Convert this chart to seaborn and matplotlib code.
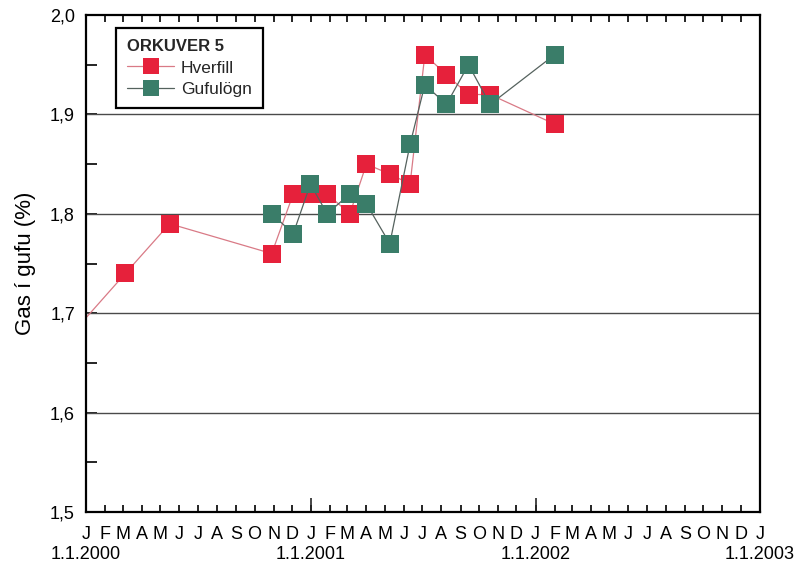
import matplotlib
matplotlib.use("Agg")
import matplotlib.pyplot as plt
import matplotlib.dates as mdates
from matplotlib.lines import Line2D
from matplotlib.ticker import MultipleLocator, FuncFormatter
import matplotlib.transforms as mtransforms
import pandas as pd
import seaborn as sns

# Hverfill measurements (date, gas content %)
hverfill_dates = ["1999-12-10", "2000-03-05", "2000-05-16", "2000-10-29", "2000-12-03",
                  "2000-12-30", "2001-01-27", "2001-03-05", "2001-04-01", "2001-05-09",
                  "2001-06-11", "2001-07-05", "2001-08-09", "2001-09-14", "2001-10-19",
                  "2002-02-02"]
hverfill_values = [1.68, 1.74, 1.79, 1.76, 1.82, 1.82, 1.82, 1.80, 1.85, 1.84,
                   1.83, 1.96, 1.94, 1.92, 1.92, 1.89]

# Gufulögn measurements
gufulogn_dates = ["2000-10-29", "2000-12-03", "2000-12-31", "2001-01-27", "2001-03-05",
                  "2001-04-01", "2001-05-09", "2001-06-11", "2001-07-05", "2001-08-09",
                  "2001-09-14", "2001-10-19", "2002-02-01"]
gufulogn_values = [1.80, 1.78, 1.83, 1.80, 1.82, 1.81, 1.77, 1.87, 1.93, 1.91,
                   1.95, 1.91, 1.96]

month_letters = ["J", "F", "M", "A", "M", "J", "J", "A", "S", "O", "N", "D"]
year_labels = ["1.1.2000", "1.1.2001", "1.1.2002", "1.1.2003"]
legend_title = "ORKUVER 5"
series_names = ["Hverfill", "Gufulögn"]

sns.set_theme(style="white")
plt.rcParams["font.family"] = ["Liberation Sans", "DejaVu Sans"]

df_h = pd.DataFrame({"date": pd.to_datetime(hverfill_dates), "value": hverfill_values})
df_g = pd.DataFrame({"date": pd.to_datetime(gufulogn_dates), "value": gufulogn_values})

fig = plt.figure(figsize=(8.03, 5.72), dpi=100)
ax = fig.add_axes([86 / 803, 1 - 512 / 572, (760 - 86) / 803, (512 - 15) / 572])

red_marker, red_line = "#e6213b", "#d97a86"
green_marker, green_line = "#3a7d69", "#55625e"

# horizontal reference lines
for yv in [1.6, 1.7, 1.8, 1.9]:
    ax.axhline(yv, color="#4a4a4a", lw=1.0, zorder=1)

sns.lineplot(data=df_h, x="date", y="value", ax=ax, color=red_line, lw=0.9,
             sort=False, estimator=None, zorder=2)
sns.scatterplot(data=df_h, x="date", y="value", ax=ax, color=red_marker, marker="s",
                s=150, linewidth=0, zorder=3)
sns.lineplot(data=df_g, x="date", y="value", ax=ax, color=green_line, lw=0.9,
             sort=False, estimator=None, zorder=4)
sns.scatterplot(data=df_g, x="date", y="value", ax=ax, color=green_marker, marker="s",
                s=150, linewidth=0, zorder=5)

ax.set_xlim(pd.Timestamp("2000-01-01"), pd.Timestamp("2003-01-01"))
ax.set_ylim(1.5, 2.0)

# x axis: month letters, longer ticks at each new year
ax.xaxis.set_major_locator(mdates.MonthLocator())
ax.xaxis.set_major_formatter(FuncFormatter(
    lambda v, p: month_letters[mdates.num2date(v).month - 1]))
ax.xaxis.set_minor_locator(mdates.YearLocator())
ax.xaxis.remove_overlapping_locs = False
ax.tick_params(axis="x", which="major", direction="in", length=5, width=1.2,
               top=True, bottom=True, labelsize=13, pad=10, colors="black")
ax.tick_params(axis="x", which="minor", direction="in", length=10, width=1.2,
               top=False, bottom=True)

# y axis with decimal comma
ax.yaxis.set_major_locator(MultipleLocator(0.1))
ax.yaxis.set_minor_locator(MultipleLocator(0.05))
ax.yaxis.set_major_formatter(FuncFormatter(lambda v, p: f"{v:.1f}".replace(".", ",")))
ax.tick_params(axis="y", which="both", direction="in", length=8, width=1.2,
               left=True, right=False, labelsize=13, pad=8, colors="black")

ax.set_xlabel("")
ax.set_ylabel("Gas í gufu (%)", fontsize=16, labelpad=10, color="black")

for sp in ax.spines.values():
    sp.set_visible(True)
    sp.set_color("black")
    sp.set_linewidth(1.6)

# year labels under January ticks
trans = mtransforms.blended_transform_factory(ax.transData, ax.transAxes)
for i, lab in enumerate(year_labels):
    ax.text(pd.Timestamp(f"{2000 + i}-01-01"), -0.068, lab, transform=trans,
            ha="center", va="top", fontsize=13, color="black", clip_on=False)

handles = [
    Line2D([], [], color=red_line, lw=0.9, marker="s", markersize=11,
           markerfacecolor=red_marker, markeredgewidth=0),
    Line2D([], [], color=green_line, lw=0.9, marker="s", markersize=11,
           markerfacecolor=green_marker, markeredgewidth=0),
]
leg = ax.legend(handles, series_names, title=legend_title, loc="upper left",
                bbox_to_anchor=((116 - 86) / 674, 1 - (28 - 15) / 497),
                borderaxespad=0, frameon=True, fancybox=False, alignment="left",
                fontsize=12.5, title_fontproperties={"weight": "bold", "size": 12},
                handlelength=2.7, handletextpad=0.4, labelspacing=0.35,
                borderpad=0.65)
leg.get_frame().set_edgecolor("black")
leg.get_frame().set_linewidth(1.6)
leg.get_frame().set_alpha(1)
leg.set_zorder(10)

fig.savefig("out.png", dpi=100)
